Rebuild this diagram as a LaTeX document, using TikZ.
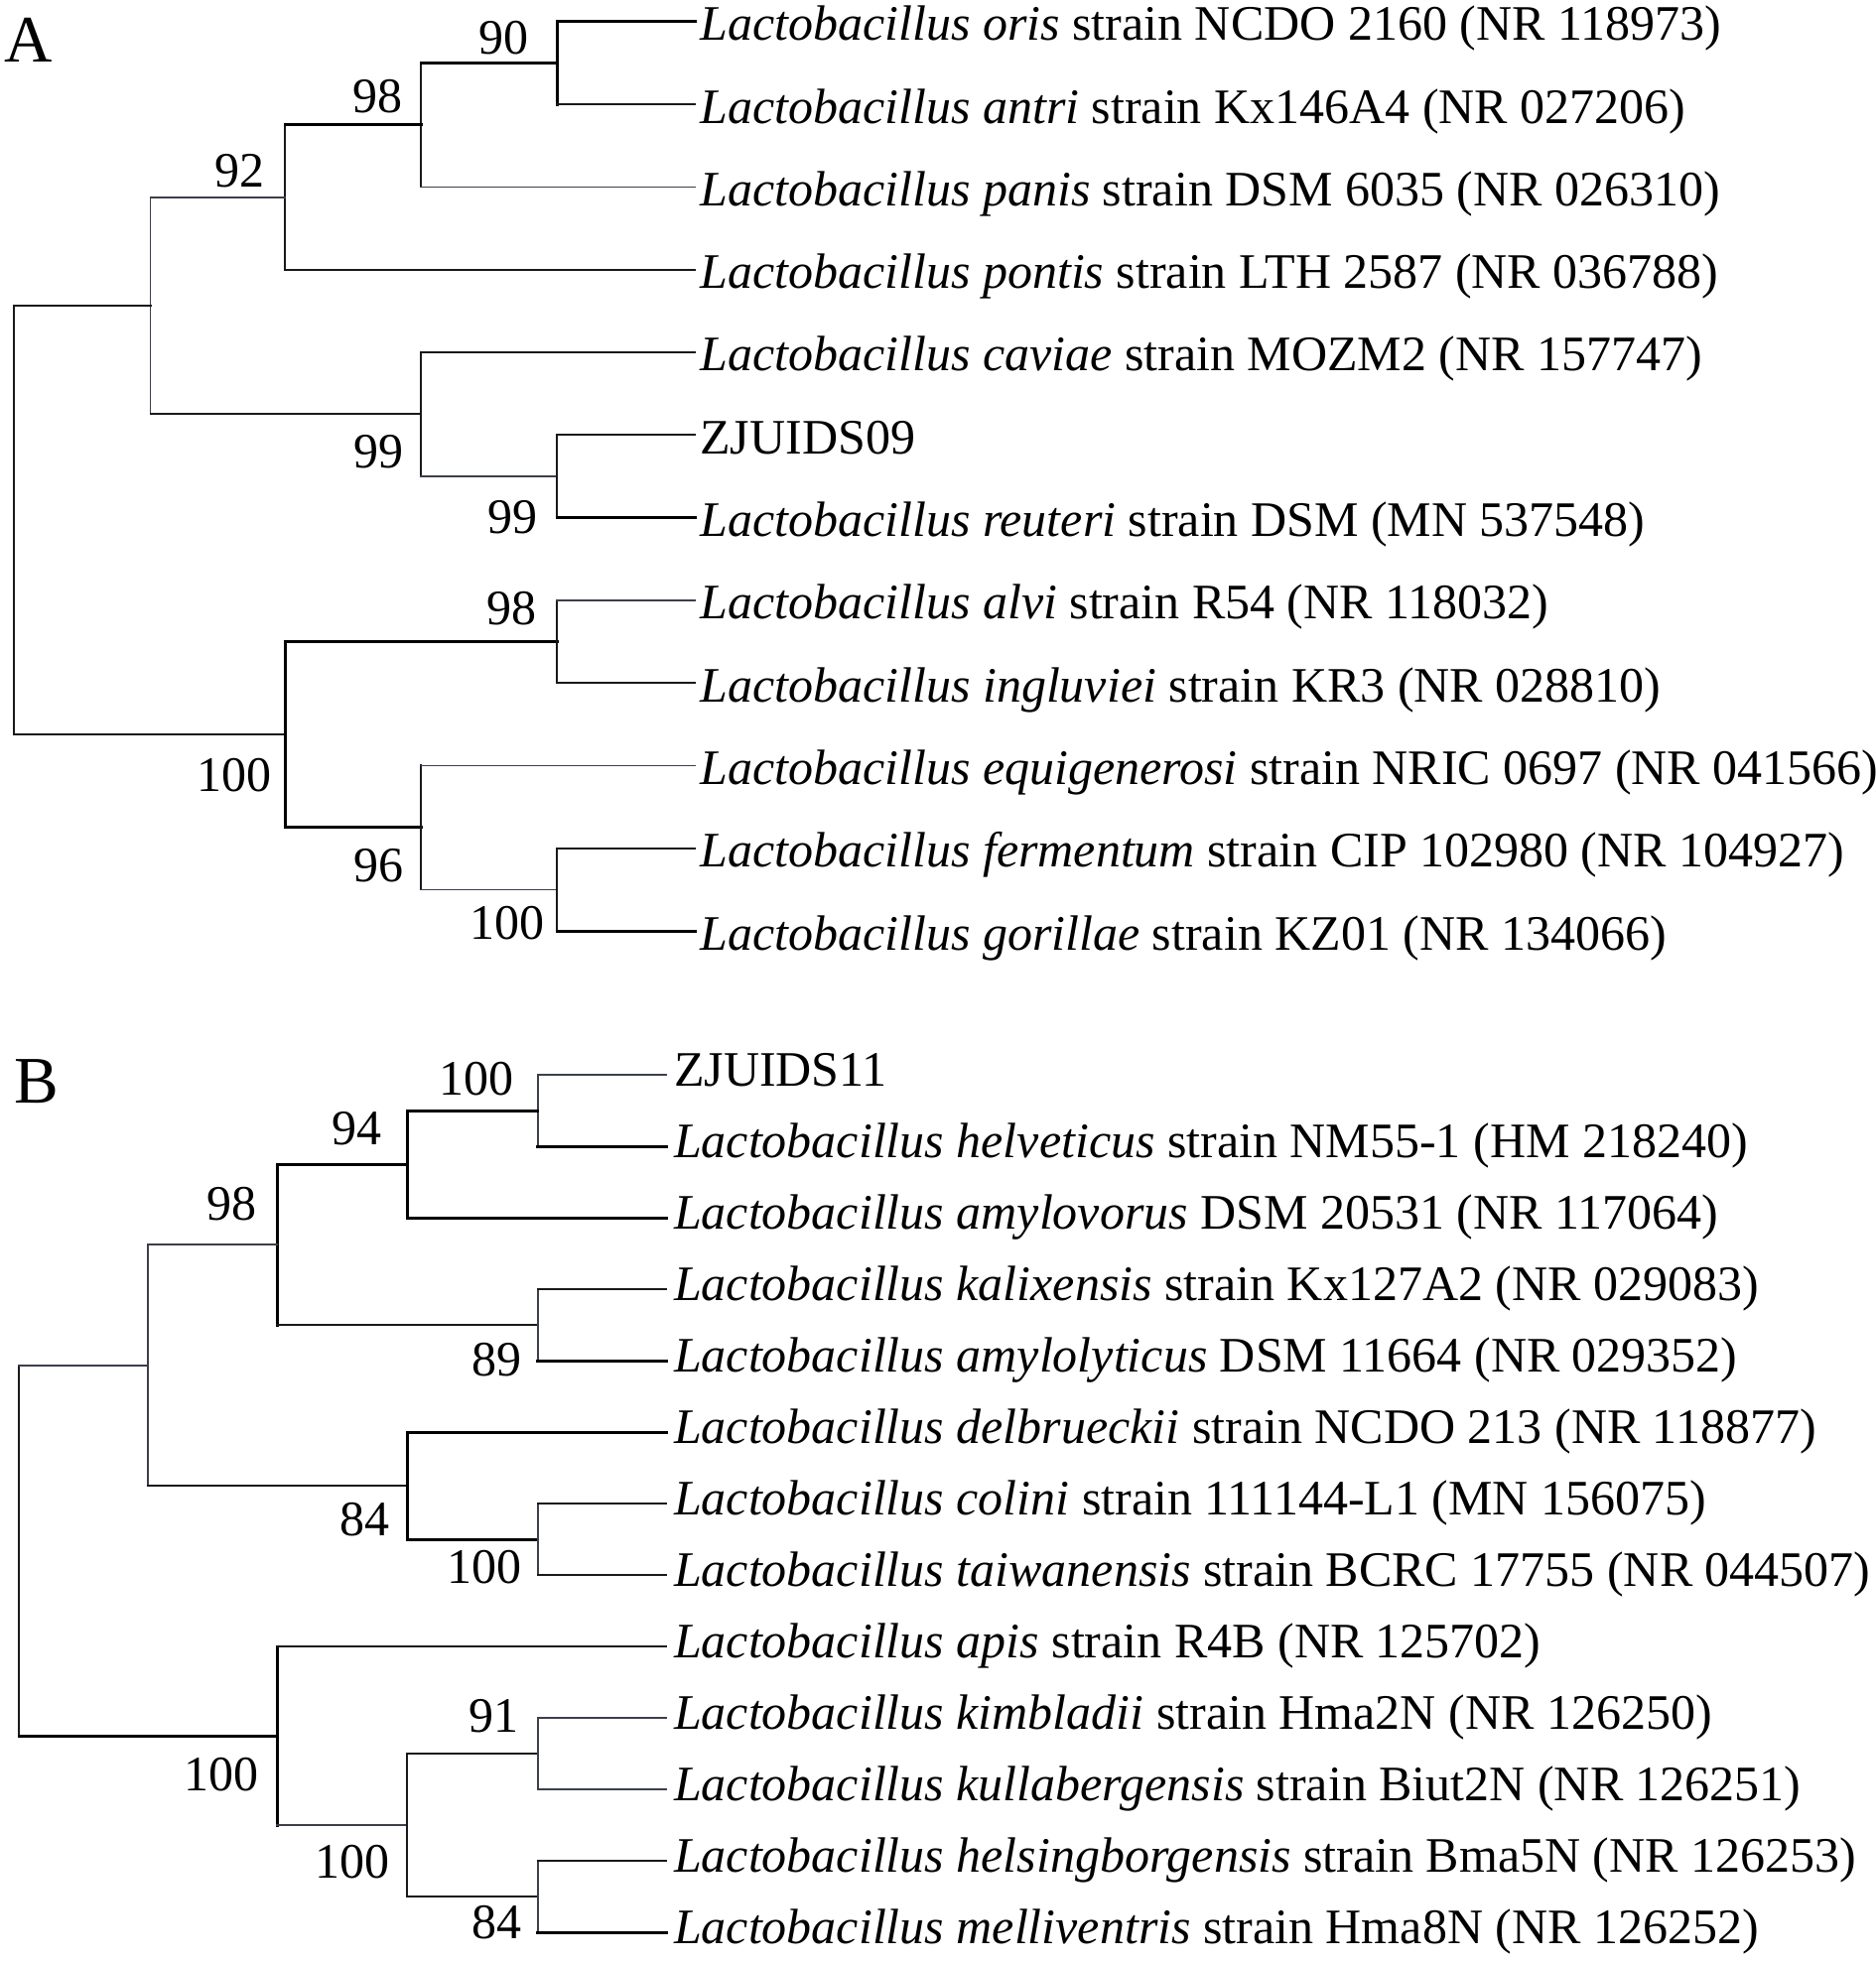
\documentclass[tikz,border=0pt]{standalone}
\usepackage{fontspec}
\setmainfont{Liberation Serif}
\begin{document}
\begin{tikzpicture}[x=0.5pt,y=-0.5pt,
  thk/.style={line width=1.5pt,color=black,line cap=rect},
  med/.style={line width=1.05pt,color=black!90,line cap=rect},
  thn/.style={line width=0.75pt,color=slate,line cap=rect},
  txt/.style={inner sep=0pt,font=\fontsize{25}{30}\selectfont},
  leaf/.style={txt,anchor=base west},
  lab/.style={txt,anchor=base east},
  panel/.style={inner sep=0pt,anchor=base west,font=\fontsize{33.5}{40}\selectfont}]
\definecolor{slate}{HTML}{3C3F4C}
\useasboundingbox (0,0) rectangle (1890,1977);
% ---------------- Panel A ----------------
\node[panel] (pA) at (4,62.7) {A};
% leaf ends
\coordinate (eA1) at (700,21.7);
\coordinate (eA2) at (700,105.0);
\coordinate (eA3) at (700,188.3);
\coordinate (eA4) at (700,271.6);
\coordinate (eA5) at (700,354.9);
\coordinate (eA6) at (700,438.2);
\coordinate (eA7) at (700,521.5);
\coordinate (eA8) at (700,604.8);
\coordinate (eA9) at (700,688.1);
\coordinate (eA10) at (700,771.4);
\coordinate (eA11) at (700,854.7);
\coordinate (eA12) at (700,938.0);
% internal nodes
\coordinate (nA90) at (561,63.35);
\coordinate (nA98) at (424,125.8);
\coordinate (nA92) at (287.3,198.7);
\coordinate (nA99b) at (561,479.85);
\coordinate (nA99a) at (424,417.4);
\coordinate (nA1) at (151.7,308.05);
\coordinate (nA98b) at (561,646.45);
\coordinate (nA100c) at (561,896.35);
\coordinate (nA96) at (424,833.9);
\coordinate (nA100) at (287.3,740.2);
\coordinate (rA) at (14.3,524.1);
% leaf labels
\node[leaf] (tA1) at (705,40.7) {\textit{Lactobacillus oris} strain NCDO 2160 (NR 118973)};
\node[leaf] (tA2) at (705,124.0) {\textit{Lactobacillus antri} strain Kx146A4 (NR 027206)};
\node[leaf] (tA3) at (705,207.3) {\textit{Lactobacillus panis} strain DSM 6035 (NR 026310)};
\node[leaf] (tA4) at (705,290.6) {\textit{Lactobacillus pontis} strain LTH 2587 (NR 036788)};
\node[leaf] (tA5) at (705,373.9) {\textit{Lactobacillus caviae} strain MOZM2 (NR 157747)};
\node[leaf] (tA6) at (705,457.2) {ZJUIDS09};
\node[leaf] (tA7) at (705,540.5) {\textit{Lactobacillus reuteri} strain DSM (MN 537548)};
\node[leaf] (tA8) at (705,623.8) {\textit{Lactobacillus alvi} strain R54 (NR 118032)};
\node[leaf] (tA9) at (705,707.1) {\textit{Lactobacillus ingluviei} strain KR3 (NR 028810)};
\node[leaf] (tA10) at (705,790.4) {\textit{Lactobacillus equigenerosi} strain NRIC 0697 (NR 041566)};
\node[leaf] (tA11) at (705,873.7) {\textit{Lactobacillus fermentum} strain CIP 102980 (NR 104927)};
\node[leaf] (tA12) at (705,957.0) {\textit{Lactobacillus gorillae} strain KZ01 (NR 134066)};
% bootstrap labels
\node[lab] (lA90) at (533,54.5) {90};
\node[lab] (lA98) at (406,113.5) {98};
\node[lab] (lA92) at (266.7,188.3) {92};
\node[lab] (lA99a) at (407,471) {99};
\node[lab] (lA99b) at (542,537) {99};
\node[lab] (lA98b) at (541,629) {98};
\node[lab] (lA100) at (274,797.7) {100};
\node[lab] (lA96) at (407,888) {96};
\node[lab] (lA100c) at (549,946) {100};
% branches
\draw[thk] (nA90 |- eA1) -- (nA90 |- eA2);
\draw[thk] (nA90 |- eA1) -- (eA1);
\draw[med] (nA90 |- eA2) -- (eA2);
\draw[med] (nA98 |- nA90) -- (nA98 |- eA3);
\draw[thk] (nA98 |- nA90) -- (nA90);
\draw[thn] (nA98 |- eA3) -- (eA3);
\draw[med] (nA92 |- nA98) -- (nA92 |- eA4);
\draw[thk] (nA92 |- nA98) -- (nA98);
\draw[med] (nA92 |- eA4) -- (eA4);
\draw[thn] (nA1 |- nA92) -- (nA1 |- nA99a);
\draw[med,color=slate] (nA1 |- nA92) -- (nA92);
\draw[med] (nA1 |- nA99a) -- (nA99a);
\draw[med] (nA99a |- eA5) -- (nA99a |- nA99b);
\draw[med] (nA99a |- eA5) -- (eA5);
\draw[thn] (nA99a |- nA99b) -- (nA99b);
\draw[med] (nA99b |- eA6) -- (nA99b |- eA7);
\draw[med] (nA99b |- eA6) -- (eA6);
\draw[thk] (nA99b |- eA7) -- (eA7);
\draw[med] (rA |- nA1) -- (rA |- nA100);
\draw[med] (rA |- nA1) -- (nA1);
\draw[med] (rA |- nA100) -- (nA100);
\draw[thk] (nA100 |- nA98b) -- (nA100 |- nA96);
\draw[thk] (nA100 |- nA98b) -- (nA98b);
\draw[thk] (nA100 |- nA96) -- (nA96);
\draw[med] (nA98b |- eA8) -- (nA98b |- eA9);
\draw[thn] (nA98b |- eA8) -- (eA8);
\draw[med] (nA98b |- eA9) -- (eA9);
\draw[med] (nA96 |- eA10) -- (nA96 |- nA100c);
\draw[thn] (nA96 |- eA10) -- (eA10);
\draw[thn] (nA96 |- nA100c) -- (nA100c);
\draw[med] (nA100c |- eA11) -- (nA100c |- eA12);
\draw[med] (nA100c |- eA11) -- (eA11);
\draw[thk] (nA100c |- eA12) -- (eA12);
% ---------------- Panel B ----------------
\node[panel] (pB) at (13.8,1111.7) {B};
\coordinate (eB1) at (671.3,1083.3);
\coordinate (eB2) at (671.3,1155.3);
\coordinate (eB3) at (671.3,1227.3);
\coordinate (eB4) at (671.3,1299.3);
\coordinate (eB5) at (671.3,1371.3);
\coordinate (eB6) at (671.3,1443.3);
\coordinate (eB7) at (671.3,1515.3);
\coordinate (eB8) at (671.3,1587.3);
\coordinate (eB9) at (671.3,1659.3);
\coordinate (eB10) at (671.3,1731.3);
\coordinate (eB11) at (671.3,1803.3);
\coordinate (eB12) at (671.3,1875.3);
\coordinate (eB13) at (671.3,1947.3);
\coordinate (nB100a) at (541.8,1119.3);
\coordinate (nB94) at (410,1173.3);
\coordinate (nB89) at (541.8,1335.3);
\coordinate (nB98) at (279.2,1254.3);
\coordinate (nB100b) at (541.8,1551.3);
\coordinate (nB84) at (410,1497.3);
\coordinate (nB1) at (149.2,1375.8);
\coordinate (nB91) at (541.8,1767.3);
\coordinate (nB84b) at (541.8,1911.3);
\coordinate (nB100c) at (410,1839.3);
\coordinate (nB100d) at (279.2,1749.3);
\coordinate (rB) at (19.3,1562.55);
\node[leaf] (tB1) at (678.6,1094.8) {ZJUIDS11};
\node[leaf] (tB2) at (678.6,1166.8) {\textit{Lactobacillus helveticus} strain NM55-1 (HM 218240)};
\node[leaf] (tB3) at (678.6,1238.8) {\textit{Lactobacillus amylovorus} DSM 20531 (NR 117064)};
\node[leaf] (tB4) at (678.6,1310.8) {\textit{Lactobacillus kalixensis} strain Kx127A2 (NR 029083)};
\node[leaf] (tB5) at (678.6,1382.8) {\textit{Lactobacillus amylolyticus} DSM 11664 (NR 029352)};
\node[leaf] (tB6) at (678.6,1454.8) {\textit{Lactobacillus delbrueckii} strain NCDO 213 (NR 118877)};
\node[leaf] (tB7) at (678.6,1526.8) {\textit{Lactobacillus colini} strain 111144-L1 (MN 156075)};
\node[leaf] (tB8) at (678.6,1598.8) {\textit{Lactobacillus taiwanensis} strain BCRC 17755 (NR 044507)};
\node[leaf] (tB9) at (678.6,1670.8) {\textit{Lactobacillus apis} strain R4B (NR 125702)};
\node[leaf] (tB10) at (678.6,1742.8) {\textit{Lactobacillus kimbladii} strain Hma2N (NR 126250)};
\node[leaf] (tB11) at (678.6,1814.8) {\textit{Lactobacillus kullabergensis} strain Biut2N (NR 126251)};
\node[leaf] (tB12) at (678.6,1886.8) {\textit{Lactobacillus helsingborgensis} strain Bma5N (NR 126253)};
\node[leaf] (tB13) at (678.6,1958.8) {\textit{Lactobacillus melliventris} strain Hma8N (NR 126252)};
\node[lab] (lB100a) at (518,1103.3) {100};
\node[lab] (lB94) at (384.8,1153.3) {94};
\node[lab] (lB98) at (258.5,1229.3) {98};
\node[lab] (lB89) at (525.7,1386.7) {89};
\node[lab] (lB84) at (393,1547) {84};
\node[lab] (lB100b) at (525.7,1595) {100};
\node[lab] (lB91) at (522.5,1745) {91};
\node[lab] (lB100d) at (260.8,1804) {100};
\node[lab] (lB100c) at (392.6,1892.3) {100};
\node[lab] (lB84b) at (525.7,1953.3) {84};
\draw[thn] (nB100a |- eB1) -- (nB100a |- eB2);
\draw[med,color=slate] (nB100a |- eB1) -- (eB1);
\draw[thk] (nB100a |- eB2) -- (eB2);
\draw[thk] (nB94 |- nB100a) -- (nB94 |- eB3);
\draw[thk] (nB94 |- nB100a) -- (nB100a);
\draw[thk] (nB94 |- eB3) -- (eB3);
\draw[thk] (nB98 |- nB94) -- (nB98 |- nB89);
\draw[thk] (nB98 |- nB94) -- (nB94);
\draw[med] (nB98 |- nB89) -- (nB89);
\draw[thn] (nB89 |- eB4) -- (nB89 |- eB5);
\draw[med] (nB89 |- eB4) -- (eB4);
\draw[thk] (nB89 |- eB5) -- (eB5);
\draw[thn] (nB1 |- nB98) -- (nB1 |- nB84);
\draw[med,color=slate] (nB1 |- nB98) -- (nB98);
\draw[med] (nB1 |- nB84) -- (nB84);
\draw[thk] (nB84 |- eB6) -- (nB84 |- nB100b);
\draw[thk] (nB84 |- eB6) -- (eB6);
\draw[thk] (nB84 |- nB100b) -- (nB100b);
\draw[thn] (nB100b |- eB7) -- (nB100b |- eB8);
\draw[med] (nB100b |- eB7) -- (eB7);
\draw[med] (nB100b |- eB8) -- (eB8);
\draw[med] (rB |- nB1) -- (rB |- nB100d);
\draw[med,color=slate] (rB |- nB1) -- (nB1);
\draw[thk] (rB |- nB100d) -- (nB100d);
\draw[thk] (nB100d |- eB9) -- (nB100d |- nB100c);
\draw[med] (nB100d |- eB9) -- (eB9);
\draw[med,color=slate] (nB100d |- nB100c) -- (nB100c);
\draw[med] (nB100c |- nB91) -- (nB100c |- nB84b);
\draw[med] (nB100c |- nB91) -- (nB91);
\draw[med] (nB100c |- nB84b) -- (nB84b);
\draw[thn] (nB91 |- eB10) -- (nB91 |- eB11);
\draw[med,color=slate] (nB91 |- eB10) -- (eB10);
\draw[med,color=slate] (nB91 |- eB11) -- (eB11);
\draw[thn] (nB84b |- eB12) -- (nB84b |- eB13);
\draw[med] (nB84b |- eB12) -- (eB12);
\draw[thk] (nB84b |- eB13) -- (eB13);
\end{tikzpicture}
\end{document}
